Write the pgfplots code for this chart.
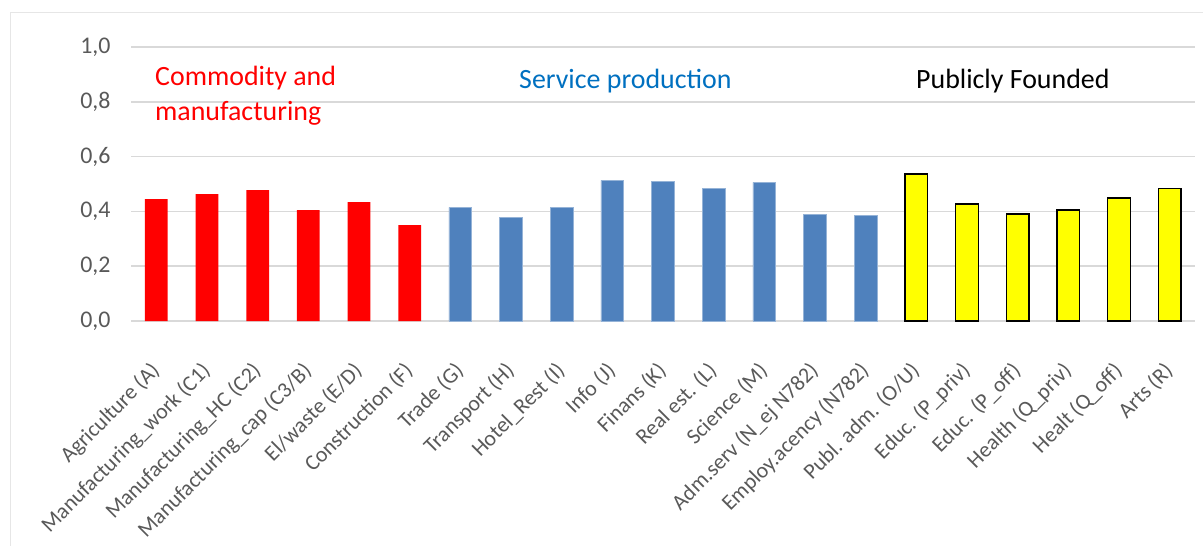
\documentclass[border=0pt]{standalone}
\usepackage{pgfplots}
\pgfplotsset{compat=1.18}
\usepackage{fontspec}
\setmainfont{Carlito}
\definecolor{gridc}{RGB}{217,217,217}
\definecolor{framec}{RGB}{230,230,230}
\definecolor{tickc}{RGB}{89,89,89}
\definecolor{barred}{RGB}{255,0,0}
\definecolor{barblue}{RGB}{79,129,189}
\definecolor{barblueedge}{RGB}{149,179,215}
\definecolor{baryellow}{RGB}{255,255,0}
\definecolor{txtblue}{RGB}{0,112,192}
\begin{document}
\begin{tikzpicture}
\useasboundingbox (0,0) rectangle (1203bp,546bp);
\draw[framec, line width=1bp] (10bp,0bp) -- (10bp,533bp) -- (1203bp,533bp);
\begin{axis}[
  at={(131bp,225bp)}, anchor=south west,
  scale only axis, width=1064bp, height=274bp,
  xmin=-0.5, xmax=20.5, ymin=0, ymax=1.0,
  ytick={0,0.2,0.4,0.6,0.8,1.0},
  xtick={0,...,20},
  xticklabels={{Agriculture (A)},{Manufacturing\_work (C1)},{Manufacturing\_HC (C2)},{Manufacturing\_cap (C3/B)},{El/waste (E/D)},{Construction (F)},{Trade (G)},{Transport (H)},{Hotel\_Rest (I)},{Info (J)},{Finans (K)},{Real est. (L)},{Science (M)},{Adm.serv (N\_ej N782)},{Employ.acency (N782)},{Publ. adm. (O/U)},{Educ. (P\_priv)},{Educ. (P\_off)},{Health (Q\_priv)},{Healt (Q\_off)},{Arts (R)}},
  ymajorgrids, major grid style={draw=gridc, line width=1.5bp},
  axis line style={draw=none},
  major tick length=0pt,
  tick label style={text=tickc},
  yticklabel style={font=\fontsize{24}{28}\selectfont, xshift=-17bp},
  xticklabel style={font=\fontsize{22}{26}\selectfont, xshift=-7.1bp, yshift=-39.6bp, rotate=45, anchor=north east, inner sep=0pt},
  /pgf/number format/.cd, fixed, fixed zerofill, precision=1, use comma, assume math mode=true,
  /pgfplots/.cd,
  ybar, bar width=22.7bp,
  clip=false,
]
\addplot[fill=barred, draw=none, bar shift=0pt] coordinates {(0,0.445)(1,0.463)(2,0.478)(3,0.405)(4,0.434)(5,0.350)};
\addplot[fill=barblue, draw=barblueedge, line width=0.8bp, bar shift=0pt] coordinates {(6,0.415)(7,0.377)(8,0.416)(9,0.513)(10,0.508)(11,0.484)(12,0.506)(13,0.389)(14,0.386)};
\addplot[fill=baryellow, draw=black, line width=1.5bp, bar shift=0pt] coordinates {(15,0.536)(16,0.427)(17,0.390)(18,0.405)(19,0.449)(20,0.483)};
\end{axis}
\node[anchor=base west, inner sep=0pt, text=barred, font=\fontsize{28}{33}\selectfont] at (155bp,460bp) {Commodity and};
\node[anchor=base west, inner sep=0pt, text=barred, font=\fontsize{28}{33}\selectfont] at (155bp,425bp) {manufacturing};
\node[anchor=base west, inner sep=0pt, text=txtblue, font=\fontsize{28}{33}\selectfont] at (519bp,457bp) {Service production};
\node[anchor=base west, inner sep=0pt, text=black, font=\fontsize{28}{33}\selectfont] at (916bp,457bp) {Publicly Founded};
\end{tikzpicture}
\end{document}
